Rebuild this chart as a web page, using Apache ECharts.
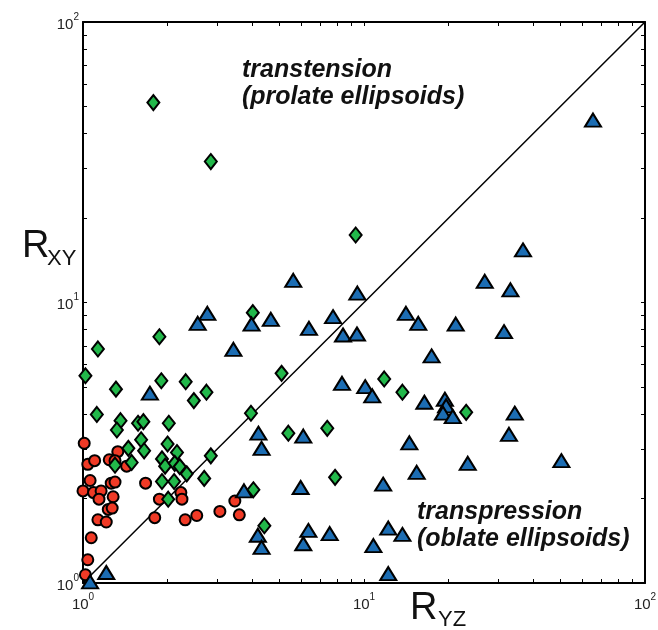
<!DOCTYPE html>
<html><head><meta charset="utf-8">
<script src="https://cdn.jsdelivr.net/npm/echarts@6/dist/echarts.min.js"></script>
<style>html,body{margin:0;padding:0;background:#fff}#c{width:658px;height:630px}</style>
</head><body><div id="c"></div>
<script>
// Red circles: R_YZ, R_XY
const redRyz = [1.01,1.04,1.10,1.06,1.00,1.09,1.16,1.14,1.26,1.30,1.28,1.24,1.33,1.30,1.43,1.23,1.27,1.13,1.21,1.07,1.04,1.02,1.67,1.87,1.80,2.23,2.25,2.31,2.54,3.07,3.47,3.60];
const redRxy = [3.15,2.65,2.73,2.32,2.13,2.10,2.13,1.99,2.27,2.29,2.03,2.75,2.94,2.73,2.61,1.83,1.85,1.68,1.65,1.45,1.21,1.07,2.27,1.99,1.71,2.10,1.99,1.68,1.74,1.80,1.96,1.75];
// Green diamonds
const greenRyz = [1.78,2.85,9.34,4.02,1.87,1.13,1.02,5.09,1.90,2.32,2.75,2.48,1.31,1.12,3.96,1.36,1.32,1.57,1.64,2.02,2.00,1.61,1.65,1.45,2.16,1.91,2.85,1.96,2.12,2.21,1.49,1.30,2.34,2.70,1.91,2.11,2.01,4.04,4.42,5.38,7.40,7.89,11.8,13.7,23.1];
const greenRxy = [51.6,31.8,17.4,9.20,7.55,6.83,5.48,5.59,5.26,5.22,4.79,4.47,4.91,3.99,4.03,3.79,3.51,3.71,3.76,3.71,3.13,3.24,2.96,3.02,2.92,2.77,2.84,2.61,2.67,2.60,2.69,2.63,2.45,2.36,2.30,2.30,1.99,2.15,1.60,3.42,3.56,2.38,5.34,4.79,4.06];
// Blue triangles
const blueRyz = [65.3,36.8,26.9,33.2,9.47,5.60,2.77,2.56,3.98,4.66,6.37,7.76,8.42,9.44,14.1,15.6,21.2,31.5,17.4,3.43,1.73,8.35,10.1,10.7,16.4,19.4,19.6,19.1,20.7,34.4,32.8,14.5,23.4,15.4,11.7,50.4,4.21,6.08,4.32,5.95,3.74,4.19,6.34,4.32,6.08,7.55,12.2,13.7,10.8,12.2,1.21,1.06];
const blueRxy = [44.7,15.4,11.9,11.1,10.8,12.0,9.15,8.43,8.38,8.71,8.09,8.90,7.66,7.72,9.15,8.43,8.38,7.87,6.45,6.81,4.75,5.15,5.01,4.65,4.41,4.52,4.28,4.03,3.92,4.03,3.39,3.16,2.67,2.48,2.25,2.73,3.42,3.34,3.02,2.19,2.13,1.48,1.54,1.34,1.38,1.50,1.57,1.49,1.36,1.08,1.09,1.01];
// 1:1 reference line
const lineRyz = [1, 100];
const lineRxy = [1, 100];
// Axis ticks
const axisMin = 1, axisMax = 100;
const tickValues = [1,2,3,4,5,6,7,8,9,10,20,30,40,50,60,70,80,90,100];
const labelValues = [1,10,100];
const expLabels = {1: '0', 10: '1', 100: '2'};

const zip = (a,b) => a.map((v,i)=>[v,b[i]]);
const FONT = '"Liberation Sans", Arial, sans-serif';

function mkAxis(pos, showLabel) {
  return {
    type: 'log', logBase: 10, min: axisMin, max: axisMax, position: pos,
    axisLine: {show: true, onZero: false, lineStyle: {color: '#000', width: 2}},
    axisTick: {show: true, inside: true, length: 4, customValues: tickValues, lineStyle: {color: '#000', width: 1}},
    minorTick: {show: false},
    splitLine: {show: false},
    axisLabel: {
      show: showLabel, customValues: labelValues,
      margin: (pos === 'bottom') ? 9 : 4,
      fontFamily: 'Liberation Sans', fontSize: 15, color: '#222',
      formatter: v => '{base|10}{sup|' + expLabels[Math.round(v)] + '}',
      rich: {
        base: {fontFamily: 'Liberation Sans', fontSize: 15, color: '#222', verticalAlign: 'bottom', lineHeight: 20},
        sup: {fontFamily: 'Liberation Sans', fontSize: 10, color: '#222', verticalAlign: 'top', lineHeight: 12}
      }
    }
  };
}

const chart = echarts.init(document.getElementById('c'), null, {renderer: 'canvas'});
chart.setOption({
  backgroundColor: '#fff',
  animation: false,
  grid: {left: 83, top: 22, width: 562, height: 561, containLabel: false, outerBoundsMode: 'none'},
  xAxis: [mkAxis('bottom', true), mkAxis('top', false)],
  yAxis: [mkAxis('left', true), mkAxis('right', false)],
  series: [
    {type: 'line', data: zip(lineRyz, lineRxy), symbol: 'none', lineStyle: {color: '#000', width: 1.5}, z: 1, silent: true},
    {type: 'scatter', data: zip(redRyz, redRxy), symbol: 'circle', symbolSize: 11, clip: false,
     itemStyle: {color: '#f03a26', borderColor: '#000', borderWidth: 2, opacity: 1}, z: 2},
    {type: 'scatter', data: zip(greenRyz, greenRxy), symbol: 'diamond', symbolSize: [12, 15], clip: false,
     itemStyle: {color: '#22b84a', borderColor: '#000', borderWidth: 2, opacity: 1}, z: 3},
    {type: 'scatter', data: zip(blueRyz, blueRxy), symbol: 'triangle', symbolSize: [16, 13], clip: false,
     itemStyle: {color: '#1c6db3', borderColor: '#000', borderWidth: 2, opacity: 1}, z: 4}
  ],
  graphic: [
    {type: 'text', left: 22, top: 228, style: {text: 'R', font: '38px ' + FONT, fill: '#111'}},
    {type: 'text', left: 47, top: 248, style: {text: 'XY', font: '22px ' + FONT, fill: '#111'}},
    {type: 'text', left: 410, top: 590, style: {text: 'R', font: '38px ' + FONT, fill: '#111'}},
    {type: 'text', left: 438, top: 609, style: {text: 'YZ', font: '22px ' + FONT, fill: '#111'}},
    {type: 'text', left: 242, top: 57, style: {text: 'transtension\n(prolate ellipsoids)', font: 'italic bold 25px ' + FONT, lineHeight: 27, fill: '#111'}},
    {type: 'text', left: 417, top: 499, style: {text: 'transpression\n(oblate ellipsoids)', font: 'italic bold 25px ' + FONT, lineHeight: 27, fill: '#111'}}
  ]
});
</script></body></html>
